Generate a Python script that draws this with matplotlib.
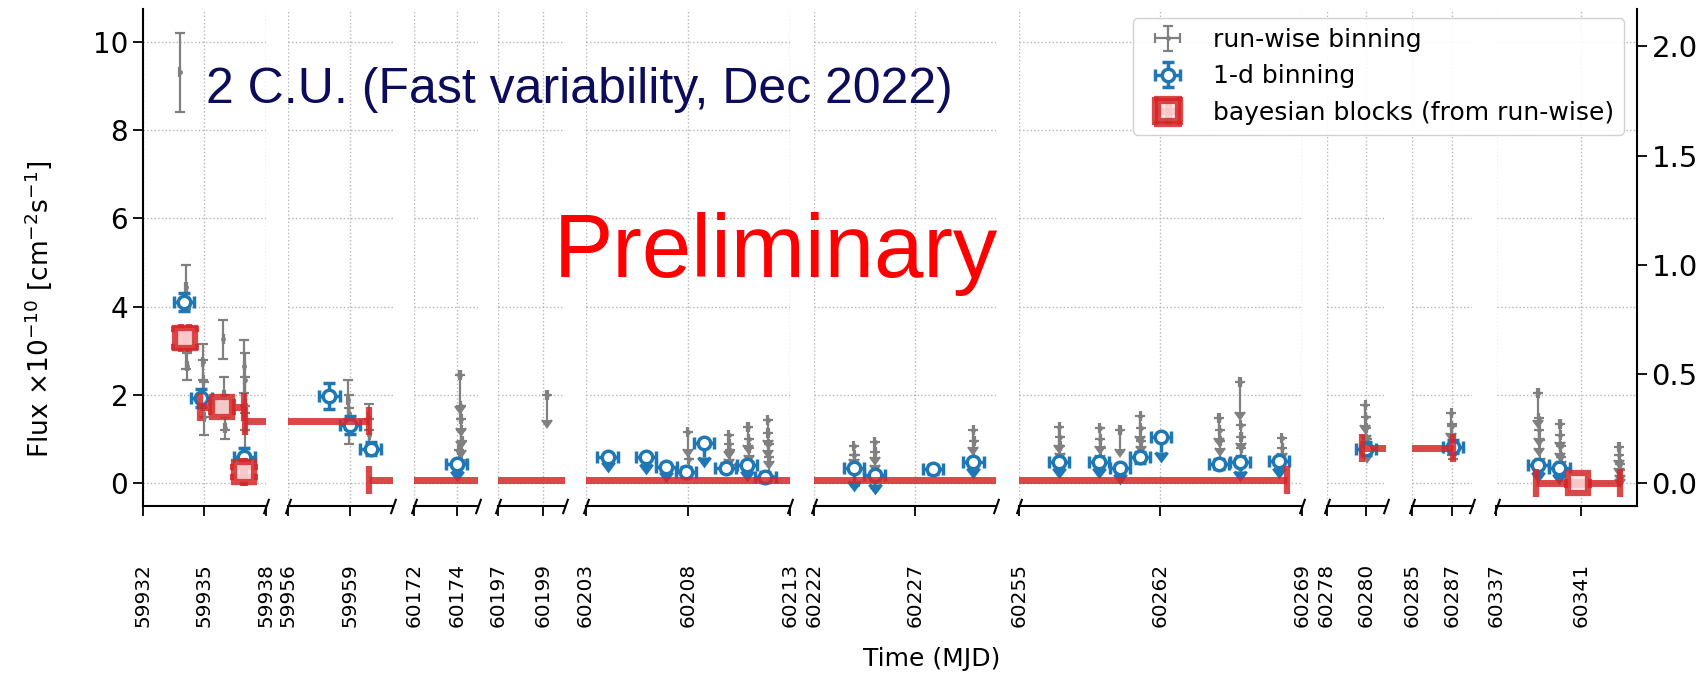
import numpy as np
import matplotlib
matplotlib.use("Agg")
import matplotlib.pyplot as plt

# broken time axis: limits and ticks of each piece (MJD)
seg_lims = [(59932, 59938), (59956, 59961.07), (60172, 60175), (60197, 60200),
            (60203, 60213), (60222, 60231), (60255, 60269), (60278, 60281),
            (60285, 60288), (60337, 60343.65)]
seg_ticks = [[59932, 59935, 59938], [59956, 59959], [60172, 60174], [60197, 60199],
             [60203, 60208, 60213], [60222, 60227], [60255, 60262, 60269],
             [60278, 60280], [60285, 60287], [60337, 60341]]

# run-wise binning (gray), flux in 1e-10 cm-2 s-1, ul = upper limit
run_t = [59933.80, 59934.10, 59934.12, 59934.15, 59934.92, 59934.95, 59934.98, 59935.00,
         59935.92, 59935.95, 59935.98, 59936.00, 59936.94, 59936.96, 59936.98, 59937.00,
         59958.90, 59958.93, 59958.96, 59959.90, 59959.93,
         60174.10, 60174.15, 60174.18, 60174.20, 60174.22, 60174.25,
         60199.20,
         60208.00, 60208.05, 60210.00, 60210.02, 60210.05, 60210.95, 60210.97, 60211.00,
         60211.90, 60211.92, 60211.95, 60211.97,
         60223.97, 60224.00, 60224.02, 60225.00, 60225.02, 60225.04, 60229.90, 60229.92,
         60257.00, 60257.02, 60257.04, 60259.00, 60259.02, 60259.04, 60260.00,
         60261.00, 60261.02, 60261.04, 60264.90, 60264.93, 60264.96,
         60265.94, 60265.96, 60265.98, 60266.00, 60268.00, 60268.02,
         60279.95, 60279.97, 60280.00, 60280.02,
         60286.95, 60286.97, 60287.00, 60287.02,
         60338.97, 60339.00, 60339.02, 60339.04, 60340.00, 60340.02, 60340.04, 60340.06,
         60342.80, 60342.82, 60342.84, 60342.86]
run_flux = [9.30, 4.45, 3.00, 2.65, 2.75, 2.35, 1.90, 1.50,
            3.26, 2.00, 1.60, 1.25, 2.65, 2.35, 1.80, 1.20,
            1.90, 1.60, 1.30, 1.50, 1.10,
            0.75, 2.45, 1.75, 1.45, 1.20, 0.95,
            2.00,
            1.17, 0.55, 1.09, 0.90, 0.75, 1.28, 1.00, 0.80,
            1.43, 1.15, 0.90, 0.60,
            0.85, 0.65, 0.30, 0.94, 0.72, 0.15, 1.22, 0.95,
            1.28, 1.05, 0.85, 1.25, 1.00, 0.80, 1.22,
            1.52, 1.25, 0.95, 1.49, 1.20, 0.95,
            2.30, 1.32, 1.05, 0.80, 1.04, 0.80,
            1.77, 1.50, 1.25, 1.00,
            1.60, 1.30, 1.00, 0.75,
            2.04, 1.48, 1.20, 0.98, 1.34, 1.10, 0.85, 0.60,
            0.83, 0.65, 0.45, 0.30]
run_err = [0.90, 0.50, 0.40, 0.30, 0.40, 0.45, 0.40, 0.40,
           0.45, 0.40, 0.40, 0.25, 0.60, 0.60, 0.60, 0.40,
           0.45, 0.40, 0.40, 0.30, 0.35,
           0.35, 0.70, 0.50, 0.50, 0.45, 0.40,
           0.57,
           0.40, 0.30, 0.35, 0.35, 0.30, 0.40, 0.35, 0.30,
           0.45, 0.40, 0.40, 0.40,
           0.30, 0.30, 0.35, 0.35, 0.30, 0.25, 0.40, 0.35,
           0.40, 0.35, 0.35, 0.40, 0.35, 0.35, 0.45,
           0.45, 0.40, 0.35, 0.45, 0.40, 0.40,
           0.68, 0.40, 0.40, 0.35, 0.35, 0.30,
           0.45, 0.40, 0.40, 0.35,
           0.45, 0.40, 0.35, 0.20,
           0.60, 0.45, 0.40, 0.40, 0.40, 0.40, 0.35, 0.30,
           0.30, 0.30, 0.25, 0.20]
run_ul = [False] * 21 + [True] * 7 + [True] * 12 + [True, True, False, True, True, False, True, True] \
    + [True] * 19 + [True] * 4 + [True, True, False, False] + [True] * 12

# 1-d binning (blue)
day_t = [59934.00, 59934.85, 59936.94, 59958.00, 59959.00, 59960.00,
         60174.00,
         60204.08, 60205.95, 60206.95, 60207.90, 60208.80, 60209.85, 60210.90, 60211.80,
         60223.97, 60225.00, 60227.90, 60229.90,
         60257.00, 60258.97, 60260.00, 60261.00, 60262.03, 60264.90, 60265.94, 60267.85,
         60279.99, 60287.05, 60338.97, 60339.97]
day_flux = [4.11, 1.93, 0.60, 1.98, 1.32, 0.79,
            0.44,
            0.60, 0.59, 0.38, 0.26, 0.91, 0.36, 0.41, 0.15,
            0.36, 0.19, 0.32, 0.49,
            0.49, 0.49, 0.36, 0.59, 1.06, 0.44, 0.49, 0.51,
            0.79, 0.83, 0.41, 0.36]
day_err = [0.20, 0.20, 0.20, 0.30, 0.20, 0.15,
           0.15,
           0.12, 0.15, 0.12, 0.12, 0.30, 0.10, 0.12, 0.12,
           0.30, 0.20, 0.10, 0.15,
           0.15, 0.15, 0.15, 0.12, 0.35, 0.12, 0.20, 0.15,
           0.15, 0.15, 0.15, 0.15]
day_ul = [False] * 6 + [True] + [True, True, True, False, True, False, True, False] \
    + [True, True, False, True] + [True, True, True, False, True, False, True, True] \
    + [False, False, True, True]

# bayesian blocks (red)
bb_start = [59933.85, 59934.77, 59936.90, 59936.98, 59959.90, 60279.80, 60338.87]
bb_stop = [59934.25, 59936.94, 59936.98, 59959.90, 60268.25, 60287.05, 60342.85]
bb_flux = [3.29, 1.73, 0.26, 1.42, 0.07, 0.80, 0.00]
bb_err = [0.20, 0.12, 0.12, 0.08, 0.04, 0.06, 0.04]

cu_scale = 4.945  # 1 C.U. in units of 1e-10 cm-2 s-1 (right axis)
ylim = (-0.51, 10.73)

# pixel edges of each piece in the 1703x680 picture
W, H = 1703, 680
seg_px = [(142.8, 266), (288, 393), (414, 478), (498, 565), (585.6, 790),
          (814, 995.7), (1018.8, 1302), (1326.5, 1386.4), (1412, 1472.5), (1496.5, 1637)]

fig = plt.figure(figsize=(W / 100, H / 100), dpi=100)
y0, y1 = 1 - 506 / H, 1 - 9.3 / H

bb_c = (np.array(bb_start) + np.array(bb_stop)) / 2
bb_w = (np.array(bb_stop) - np.array(bb_start)) / 2

axes = []
n = len(seg_lims)
for i, ((a, b), (p0, p1)) in enumerate(zip(seg_lims, seg_px)):
    ax = fig.add_axes([p0 / W, y0, (p1 - p0) / W, y1 - y0])
    axes.append(ax)
    h_run = ax.errorbar(run_t, run_flux, yerr=run_err, xerr=0.03, uplims=run_ul, fmt='.',
                        color='gray', ms=5, elinewidth=1.6, capsize=3.5, capthick=1.6, zorder=2)
    h_day = ax.errorbar(day_t, day_flux, yerr=day_err, xerr=0.5, uplims=day_ul, fmt='o',
                        color='#1f77b4', mfc='white', mec='#1f77b4', ms=9, mew=2.5,
                        elinewidth=2.5, capsize=4, capthick=2.5, zorder=3)
    h_bb = ax.errorbar(bb_c, bb_flux, yerr=bb_err, xerr=bb_w, fmt='s', color='#d62728',
                       mfc='#fde4e4', mec='#d62728', ms=15, mew=4.5, elinewidth=5,
                       capsize=10, capthick=3, alpha=0.85, zorder=4)
    ax.set_xlim(a, b)
    ax.set_ylim(*ylim)
    ax.set_xticks(seg_ticks[i])
    ax.set_xticklabels([str(t) for t in seg_ticks[i]], rotation=90, fontsize=14.5)
    ax.set_yticks([0, 2, 4, 6, 8, 10])
    ax.tick_params(axis='x', length=7, width=1.3, pad=34)
    ax.tick_params(axis='y', length=7, width=1.3, labelsize=20)
    ax.grid(True, ls=':', color='#b5b5b5', lw=1)
    ax.spines['top'].set_visible(False)
    ax.spines['right'].set_visible(False)
    ax.spines['bottom'].set_linewidth(1.5)
    if i > 0:
        ax.spines['left'].set_visible(False)
        ax.tick_params(axis='y', left=False, labelleft=False)
    else:
        ax.spines['left'].set_linewidth(1.5)
    # break marks on the time axis
    kw = dict(marker=[(-0.35, -1), (0.35, 1)], markersize=11, linestyle='none',
              color='k', mec='k', mew=1.5, clip_on=False)
    if i > 0:
        ax.plot([0], [0], transform=ax.transAxes, **kw)
    if i < n - 1:
        ax.plot([1], [0], transform=ax.transAxes, **kw)

# right axis in Crab units
ax2 = axes[-1].twinx()
axes[-1].tick_params(axis='y', left=False, labelleft=False, right=False, labelright=False)
ax2.set_ylim(ylim[0] / cu_scale, ylim[1] / cu_scale)
ax2.set_yticks([0, 0.5, 1.0, 1.5, 2.0])
ax2.set_yticklabels(['0.0', '0.5', '1.0', '1.5', '2.0'])
ax2.tick_params(axis='y', left=False, labelleft=False, right=True, labelright=True,
                length=7, width=1.3, labelsize=21)
for s in ['top', 'left', 'bottom']:
    ax2.spines[s].set_visible(False)
ax2.spines['right'].set_linewidth(1.5)

fig.legend([h_run, h_day, h_bb],
           ['run-wise binning', '1-d binning', 'bayesian blocks (from run-wise)'],
           loc='upper right', bbox_to_anchor=(1624 / W, 1 - 18 / H), borderaxespad=0,
           fontsize=18, framealpha=0.9, edgecolor='#cccccc')

fig.text(38 / W, 1 - 309 / H, r'Flux $\times10^{-10}$ [cm$^{-2}$s$^{-1}$]', rotation=90,
         ha='center', va='center', fontsize=19)
fig.text(932 / W, 1 - 659 / H, 'Time (MJD)', ha='center', va='center', fontsize=18)

fig.text(206 / W, 1 - 90 / H, '2 C.U. (Fast variability, Dec 2022)', color='#0c0c5a',
         fontsize=36, family='Liberation Sans', va='center')
fig.text(554 / W, 1 - 277 / H, 'Preliminary', color='red', fontsize=64,
         family='Liberation Sans', va='baseline')

fig.savefig('out.png', dpi=100)
